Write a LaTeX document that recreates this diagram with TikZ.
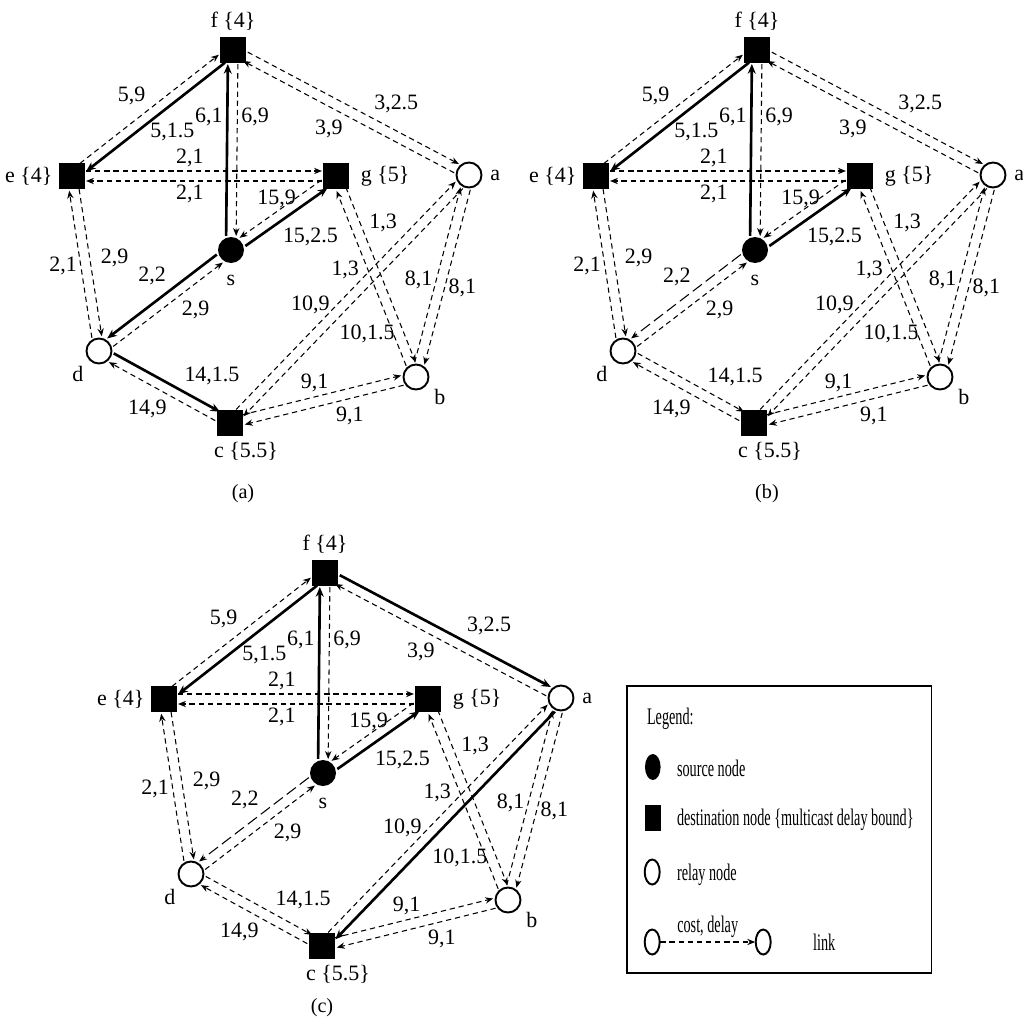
\documentclass[tikz,border=0pt]{standalone}
\usepackage{fontspec}
\setmainfont{Liberation Serif}
\usetikzlibrary{arrows.meta,calc,backgrounds}

\begin{document}
\begin{tikzpicture}[x=0.02cm, y=-0.02cm,
    font=\fontsize{12.5}{14}\selectfont,
    src/.style={circle, fill=black, inner sep=0pt, minimum size=0.52cm},
    dst/.style={rectangle, fill=black, inner sep=0pt, minimum size=0.52cm},
    rly/.style={circle, draw, fill=white, line width=1.1pt, inner sep=0pt, minimum size=0.5cm},
    dl/.style={-{Stealth[length=4.5pt, width=3.6pt]}, line width=0.6pt, dash pattern=on 3pt off 2.2pt},
    ldl/.style={-{Stealth[length=4.5pt, width=3.6pt]}, line width=0.6pt, dash pattern=on 6.5pt off 2.8pt},
    tree/.style={-{Stealth[length=5.5pt, width=4.5pt]}, line width=1.5pt},
    lk/.style={to path={($($(\tikztostart)!8pt!(\tikztotarget)$)!#1!90:(\tikztotarget)$)
        -- ($($(\tikztotarget)!8pt!(\tikztostart)$)!#1!-90:(\tikztostart)$) \tikztonodes}},
    lk/.default=2.85pt,
    lbl/.style={inner sep=2pt},
    ltxt/.style={anchor=west, inner sep=0pt, font=\fontsize{13.5}{15}\selectfont}
]
\useasboundingbox (0,0) rectangle (1023,1028);

% the same network three times: (a), (b), (c)
\foreach \p/\dx/\dy/\ta/\sd/\dc in {A/0/0/dl/tree/tree, B/524/0/dl/ldl/dl, C/92/523/tree/ldl/dl}{
  \begin{scope}[shift={(\dx,\dy)}]
    \node[dst, label=above:{f \{4\}}] (f\p) at (233,50) {};
    \node[dst, label=left:{e \{4\}}] (e\p) at (72,176) {};
    \node[dst, label={[label distance=3pt]right:g \{5\}}] (g\p) at (336,176) {};
    \node[rly, label={[label distance=1pt]right:a}] (a\p) at (469,175) {};
    \node[src, label={[label distance=3pt]below:s}] (s\p) at (231,250) {};
    \node[rly, label=below left:d] (d\p) at (99,351) {};
    \node[rly, label=-25:b] (b\p) at (416,377) {};
    \node[dst, label={[xshift=0.32cm, label distance=0pt]below:c \{5.5\}}] (c\p) at (230,423) {};
  \end{scope}
  \begin{scope}[on background layer]
    \draw[dl] (e\p) to[lk] node[lbl, auto, pos=.5] {5,9} (f\p);
    \draw[tree] (f\p) to[lk] node[lbl, anchor=north, xshift=8pt, yshift=-2pt, pos=.48] {5,1.5} (e\p);
    \draw[tree] (s\p) to[lk] node[lbl, auto, pos=.69] {6,1} (f\p);
    \draw[dl] (f\p) to[lk] node[lbl, auto, pos=.31] {6,9} (s\p);
    \draw[\ta] (f\p) to[lk] node[lbl, auto, pos=.58] {3,2.5} (a\p);
    \draw[dl] (a\p) to[lk] node[lbl, auto, pos=.51] {3,9} (f\p);
    \draw[dl] (e\p) to[lk] node[lbl, auto, pos=.44] {2,1} (g\p);
    \draw[dl] (g\p) to[lk] node[lbl, auto, pos=.56] {2,1} (e\p);
    \draw[tree] (s\p) to[lk=-2.85pt] node[lbl, auto, swap, pos=.4] {15,2.5} (g\p);
    \draw[dl] (g\p) to[lk=-2.85pt] node[lbl, anchor=south, pos=.55] {15,9} (s\p);
    \draw[dl] (d\p) to[lk] node[lbl, anchor=east, pos=.49] {2,1} (e\p);
    \draw[dl] (e\p) to[lk] node[lbl, anchor=west, xshift=4pt, pos=.47] {2,9} (d\p);
    \draw[\sd] (s\p) to[lk=-2.85pt] node[lbl, auto, swap, pos=.42] {2,2} (d\p);
    \draw[dl] (d\p) to[lk=-2.85pt] node[lbl, auto, swap, pos=.59] {2,9} (s\p);
    \draw[dl] (g\p) to[lk] node[lbl, auto, pos=.28] {1,3} (b\p);
    \draw[dl] (b\p) to[lk] node[lbl, auto, pos=.62] {1,3} (g\p);
    \draw[dl] (c\p) to[lk] node[lbl, anchor=east, xshift=-2pt, pos=.46] {10,9} (a\p);
    \draw[\ta] (a\p) to[lk] node[lbl, auto, pos=.58] {10,1.5} (c\p);
    \draw[dl] (b\p) to[lk] node[lbl, anchor=east, pos=.47] {8,1} (a\p);
    \draw[dl] (a\p) to[lk] node[lbl, anchor=west, pos=.56] {8,1} (b\p);
    \draw[dl] (c\p) to[lk] node[auto, inner sep=0.5pt, pos=.55] {9,1} (b\p);
    \draw[dl] (b\p) to[lk] node[lbl, auto, pos=.45] {9,1} (c\p);
    \draw[\dc] (d\p) to[lk] node[lbl, auto, pos=.62] {14,1.5} (c\p);
    \draw[dl] (c\p) to[lk] node[lbl, auto, pos=.42] {14,9} (d\p);
  \end{scope}
}

\node[font=\fontsize{11.5}{13}\selectfont] (capA) at (243,494) {(a)};
\node[font=\fontsize{11.5}{13}\selectfont] (capB) at (767,494) {(b)};
\node[font=\fontsize{11.5}{13}\selectfont] (capC) at (322,1008) {(c)};

% legend, squeezed sideways
\begin{scope}[shift={(627,686)}, xscale=0.6, transform shape]
  \draw[line width=0.6pt] (0,0) rectangle (508,287);
  \node[ltxt] (lgd) at (33,33) {Legend:};
  \node[src] (lsrc) at (43,81) {};
  \node[ltxt] (tsrc) at (83,82) {source node};
  \node[dst] (ldst) at (43,132) {};
  \node[ltxt] (tdst) at (83,134) {destination node \{multicast delay bound\}};
  \node[rly] (lrly) at (42,186) {};
  \node[ltxt] (trly) at (83,189) {relay node};
  \node[rly] (lu) at (42,256) {};
  \node[rly] (lv) at (227,256) {};
  \draw[dl] (lu) -- node[above, inner sep=2pt, font=\fontsize{13.5}{15}\selectfont] {cost, delay} (lv);
  \node[ltxt] (tlink) at (310,256) {link};
\end{scope}
\end{tikzpicture}
\end{document}
